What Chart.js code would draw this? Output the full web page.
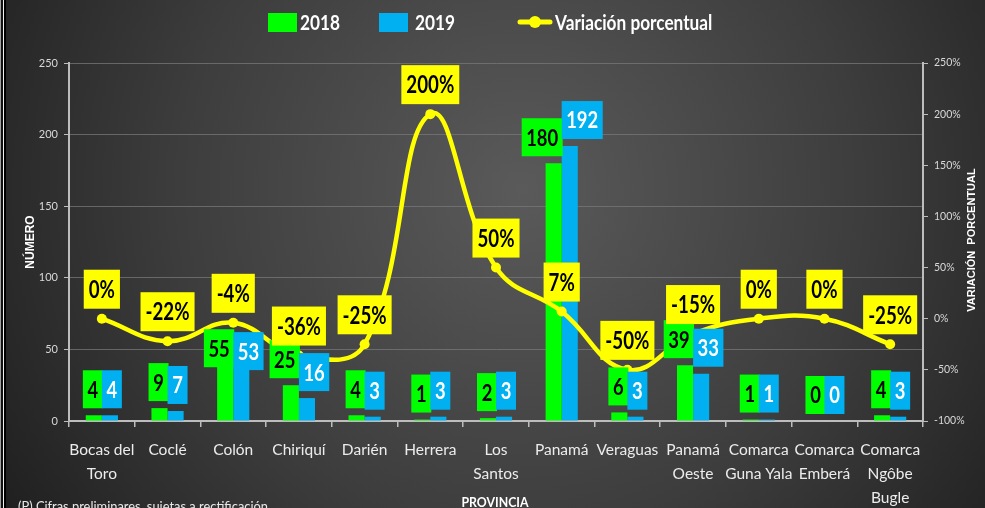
<!DOCTYPE html>
<html><head><meta charset="utf-8">
<script src="https://cdn.jsdelivr.net/npm/chart.js@4.4.1/dist/chart.umd.min.js"></script>
<style>html,body{margin:0;padding:0;background:#1f1f1f;overflow:hidden}canvas{display:block}</style>
</head><body><canvas id="c" width="985" height="508"></canvas>
<script>
const categories = [["Bocas del","Toro"],"Coclé","Colón","Chiriquí","Darién","Herrera",["Los","Santos"],"Panamá","Veraguas",["Panamá","Oeste"],["Comarca","Guna Yala"],["Comarca","Emberá"],["Comarca","Ngôbe","Bugle"]];
const values2018 = [4,9,55,25,4,1,2,180,6,39,1,0,4];
const values2019 = [4,7,53,16,3,3,3,192,3,33,1,0,3];
const variation = [0,-22,-4,-36,-25,200,50,7,-50,-15,0,0,-25];
const leftTicks = [0,50,100,150,200,250];
const rightTicks = [-100,-50,0,50,100,150,200,250];
const seriesNames = ["2018","2019","Variación porcentual"];
const axisTitles = {left:"NÚMERO", right:"VARIACIÓN  PORCENTUAL", bottom:"PROVINCIA"};
const footnote = "(P) Cifras preliminares, sujetas a rectificación";

const FONT = 'Lato, "Open Sans", sans-serif';
const GREEN = '#00FF00', BLUE = '#00B0F0', YELLOW = '#FFFF00';

function drawText(ctx, txt, x, y, font, sx, align){
  ctx.save();
  ctx.font = font;
  ctx.textAlign = align || 'center';
  ctx.translate(x, y);
  ctx.scale(sx, 1);
  ctx.fillText(txt, 0, 0);
  ctx.restore();
}
function textWidth(ctx, txt, font, sx){
  ctx.save(); ctx.font = font; const w = ctx.measureText(txt).width * sx; ctx.restore(); return w;
}

const bgPlugin = {
  id:'bg',
  beforeDraw(chart){
    const ctx = chart.ctx, W = chart.width, H = chart.height;
    ctx.save();
    const g = ctx.createRadialGradient(520,190,0,520,190,620);
    g.addColorStop(0,'#5a5a5a');
    g.addColorStop(0.55,'#3d3d3d');
    g.addColorStop(1,'#1e1e1e');
    ctx.fillStyle = g;
    ctx.fillRect(0,0,W,H);
    ctx.fillStyle = '#a0a0a0'; ctx.fillRect(0,0,1,H);
    ctx.fillStyle = '#111'; ctx.fillRect(1,0,2,H);
    ctx.fillStyle = '#f0f0f0'; ctx.fillRect(3,0,1,H);
    ctx.fillStyle = '#000'; ctx.fillRect(4,0,2,H);
    ctx.restore();
  }
};

const labelPlugin = {
  id:'valLabels',
  afterDatasetsDraw(chart, args, opts){
    const ctx = chart.ctx;
    const nudge = opts.nudge || {};
    ctx.save();
    ctx.textBaseline = 'middle';
    const barFont = 'bold 23px ' + FONT, barSx = 0.8;
    [0,1].forEach(di=>{
      const meta = chart.getDatasetMeta(di);
      const data = chart.data.datasets[di].data;
      meta.data.forEach((el,i)=>{
        const txt = String(data[i]);
        const tw = textWidth(ctx, txt, barFont, barSx);
        const w = Math.max(tw + 9, 20), h = 38;
        const cx = chart.scales.x.getPixelForValue(i);
        const bottom = el.y - 7 + (nudge[i] || 0);
        const left = di === 0 ? cx + 1 - w : cx;
        ctx.fillStyle = di === 0 ? GREEN : BLUE;
        ctx.fillRect(left, bottom - h, w, h);
        ctx.fillStyle = di === 0 ? '#000' : '#fff';
        drawText(ctx, txt, left + w/2, bottom - h/2 + 1, barFont, barSx);
      });
    });
    const lm = chart.getDatasetMeta(2);
    const ld = chart.data.datasets[2].data;
    const lineFont = 'bold 24px ' + FONT, lineSx = 0.78;
    lm.data.forEach((el,i)=>{
      const txt = ld[i] + '%';
      const tw = textWidth(ctx, txt, lineFont, lineSx);
      const w = tw + 10, h = 39;
      const bottom = el.y - 10;
      ctx.fillStyle = YELLOW;
      ctx.fillRect(el.x - w/2, bottom - h, w, h);
      ctx.fillStyle = '#000';
      drawText(ctx, txt, el.x, bottom - h/2 + 1, lineFont, lineSx);
    });
    ctx.restore();
  }
};

const decoPlugin = {
  id:'deco',
  afterDraw(chart){
    const ctx = chart.ctx;
    ctx.save();
    ctx.textBaseline = 'middle';
    const lf = 'bold 21px ' + FONT, lsx = 0.82;
    ctx.fillStyle = GREEN; ctx.fillRect(268,13,29,19);
    ctx.fillStyle = '#fff'; drawText(ctx, seriesNames[0], 300, 23, lf, lsx, 'left');
    ctx.fillStyle = BLUE; ctx.fillRect(379,13,29,19);
    ctx.fillStyle = '#fff'; drawText(ctx, seriesNames[1], 415, 23, lf, lsx, 'left');
    ctx.strokeStyle = YELLOW; ctx.lineWidth = 5; ctx.lineCap = 'round';
    ctx.beginPath(); ctx.moveTo(520,22); ctx.lineTo(550,22); ctx.stroke();
    ctx.fillStyle = YELLOW; ctx.beginPath(); ctx.arc(535,22,6,0,Math.PI*2); ctx.fill();
    ctx.fillStyle = '#fff'; drawText(ctx, seriesNames[2], 555, 23, lf, lsx, 'left');
    ctx.fillStyle = '#fff';
    ctx.textAlign = 'center';
    ctx.font = 'bold 12px "Liberation Sans", sans-serif';
    ctx.save(); ctx.translate(31,242); ctx.rotate(-Math.PI/2); ctx.fillText(axisTitles.left,0,0); ctx.restore();
    ctx.font = 'bold 11px "Liberation Sans", sans-serif';
    ctx.save(); ctx.translate(972,240); ctx.rotate(-Math.PI/2); ctx.fillText(axisTitles.right,0,0); ctx.restore();
    drawText(ctx, axisTitles.bottom, 495, 502, 'bold 14px ' + FONT, 0.88);
    ctx.textBaseline = 'top';
    ctx.fillStyle = '#e8e8e8';
    drawText(ctx, footnote, 18, 499, '14px ' + FONT, 0.92, 'left');
    ctx.restore();
  }
};

new Chart(document.getElementById('c'), {
  data:{
    labels: categories,
    datasets:[
      {type:'bar', label:seriesNames[0], data:values2018, backgroundColor:GREEN, yAxisID:'y', order:1,
       barPercentage:1, categoryPercentage:0.49},
      {type:'bar', label:seriesNames[1], data:values2019, backgroundColor:BLUE, yAxisID:'y', order:1,
       barPercentage:1, categoryPercentage:0.49},
      {type:'line', label:seriesNames[2], data:variation, borderColor:YELLOW, backgroundColor:YELLOW,
       borderWidth:4.5, tension:0.42, pointRadius:5, pointBackgroundColor:YELLOW, pointBorderWidth:0,
       yAxisID:'y2', order:0}
    ]
  },
  options:{
    responsive:false, animation:false,
    layout:{padding:{top:63,left:0,right:0,bottom:0}},
    plugins:{legend:{display:false}, tooltip:{enabled:false},
      valLabels:{nudge:{2:32}}},
    scales:{
      x:{
        offset:true,
        grid:{display:true, drawOnChartArea:false, drawTicks:true, tickLength:6, color:'#bdbdbd', offset:true, lineWidth:1.5},
        border:{display:true, color:'#bdbdbd', width:2},
        ticks:{color:'#ececec', font:{family:FONT, size:15.5, lineHeight:1.55}, padding:11, autoSkip:false, maxRotation:0, minRotation:0},
        afterFit(s){ s.height = 87; }
      },
      y:{
        position:'left', min:0, max:250,
        afterBuildTicks(s){ s.ticks = leftTicks.map(v=>({value:v})); },
        grid:{color:'rgba(120,120,120,0.75)', lineWidth:1, tickColor:'#bdbdbd', tickLength:5},
        border:{display:true, color:'#bdbdbd', width:2},
        ticks:{color:'#d8d8d8', font:{family:FONT, size:11}, padding:6},
        afterFit(s){ s.width = 69; }
      },
      y2:{
        position:'right', min:-100, max:250,
        afterBuildTicks(s){ s.ticks = rightTicks.map(v=>({value:v})); },
        grid:{drawOnChartArea:false, tickColor:'#bdbdbd', tickLength:5},
        border:{display:true, color:'#bdbdbd', width:2},
        ticks:{color:'#d8d8d8', font:{family:FONT, size:10.5}, padding:6, callback:v=>v+'%'},
        afterFit(s){ s.width = 62; }
      }
    }
  },
  plugins:[bgPlugin, labelPlugin, decoPlugin]
});
</script>
</body></html>
